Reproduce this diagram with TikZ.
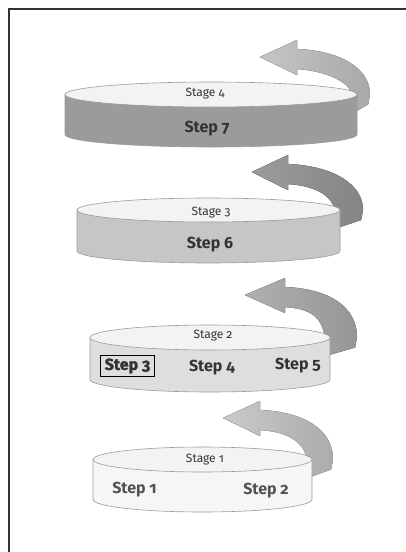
\documentclass[tikz,border=0pt]{standalone}
\usepackage{fontspec}
\setmainfont{Fira Sans}[Numbers=OldStyle]
\newfontfamily\heavyfont{Fira Sans}[Numbers=OldStyle, BoldFeatures={FakeBold=1.6}]
\definecolor{framegray}{HTML}{333333}
\definecolor{textgray}{HTML}{333333}
\definecolor{edgegray}{HTML}{9A9A9A}
\definecolor{topgray}{HTML}{F3F3F3}
\definecolor{diskd}{HTML}{9B9B9B}
\definecolor{diskc}{HTML}{C6C6C6}
\definecolor{diskb}{HTML}{DEDEDE}
\definecolor{diska}{HTML}{F6F6F6}
\definecolor{turnd}{HTML}{C6C6C6}
\definecolor{turnc}{HTML}{9C9C9C}
\definecolor{turnb}{HTML}{B0B0B0}
\definecolor{turna}{HTML}{CACACA}
\newcommand{\stagedisk}[6]{%
  \filldraw[fill=#6, draw=edgegray, line width=0.6pt]
    (#1-#3, #2) -- (#1-#3, #2+#5)
    arc[start angle=180, end angle=0, x radius=#3, y radius=#4]
    -- (#1+#3, #2) -- cycle;
  \filldraw[fill=topgray, draw=edgegray, line width=0.6pt]
    (#1, #2) ellipse[x radius=#3, y radius=#4]}
\newcommand{\turnarrow}[7]{%
  \filldraw[left color=#7, right color=#7!85!black, draw=#7!85!black,
    line width=0.3pt]
    (#1, #2) -- (#3, #2-17) -- (#3, #2-8)
    .. controls (#3+45, #2-6) and (#4, #2+12) .. (#4, #6)
    -- (#4-2, #6+10) -- (#5-3, #6+18) -- (#5-5, #6)
    .. controls (#5-8, #2+25) and (#3+30, #2+14) .. (#3, #2+12)
    -- (#3, #2+18) -- cycle}

\begin{document}
\begin{tikzpicture}[x=1pt, y=-1pt,
    stagetext/.style={font=\fontsize{12}{12}\selectfont, text=textgray},
    steptext/.style={font=\fontsize{16}{16}\selectfont\bfseries, text=textgray},
    boxed/.style={draw, line width=0.8pt, inner xsep=4pt, inner ysep=3pt}]
  \useasboundingbox (0, 0) rectangle (406, 552);
  \draw[line width=2pt, framegray] (9, 552) -- (9, 9) -- (406, 9);

  % stage 4
  \turnarrow{260}{57}{297}{370}{357}{94.5}{turnd};
  \stagedisk{211}{94.5}{146}{12.5}{40}{diskd};
  \node[stagetext] (stage4) at (205, 94) {Stage 4};
  \node[steptext] (step7) at (207, 129) {Step 7};

  % stage 3
  \turnarrow{252}{172}{288}{363}{340}{210}{turnc};
  \stagedisk{208.5}{210}{131.5}{12}{41}{diskc};
  \node[stagetext] (stage3) at (211, 213) {Stage 3};
  \node[steptext] (step6) at (210, 245) {Step 6};

  % stage 2
  \turnarrow{245}{295}{285}{357}{330}{337.5}{turnb};
  \stagedisk{210}{337.5}{120}{12.5}{42}{diskb};
  \node[stagetext] (stage2) at (213, 336) {Stage 2};
  \node[steptext, boxed] (step3) at (127.5, 366) {\heavyfont Step 3};
  \node[steptext] (step4) at (212, 368) {Step 4};
  \node[steptext] (step5) at (298, 366) {Step 5};

  % stage 1
  \turnarrow{223}{418}{260}{333}{312}{459.5}{turna};
  \stagedisk{202.5}{459.5}{109.5}{12.5}{40}{diska};
  \node[stagetext] (stage1) at (205, 460) {Stage 1};
  \node[steptext, text=textgray!85] (step1) at (134.5, 490) {Step 1};
  \node[steptext, text=textgray!85] (step2) at (266, 491) {Step 2};
\end{tikzpicture}
\end{document}
